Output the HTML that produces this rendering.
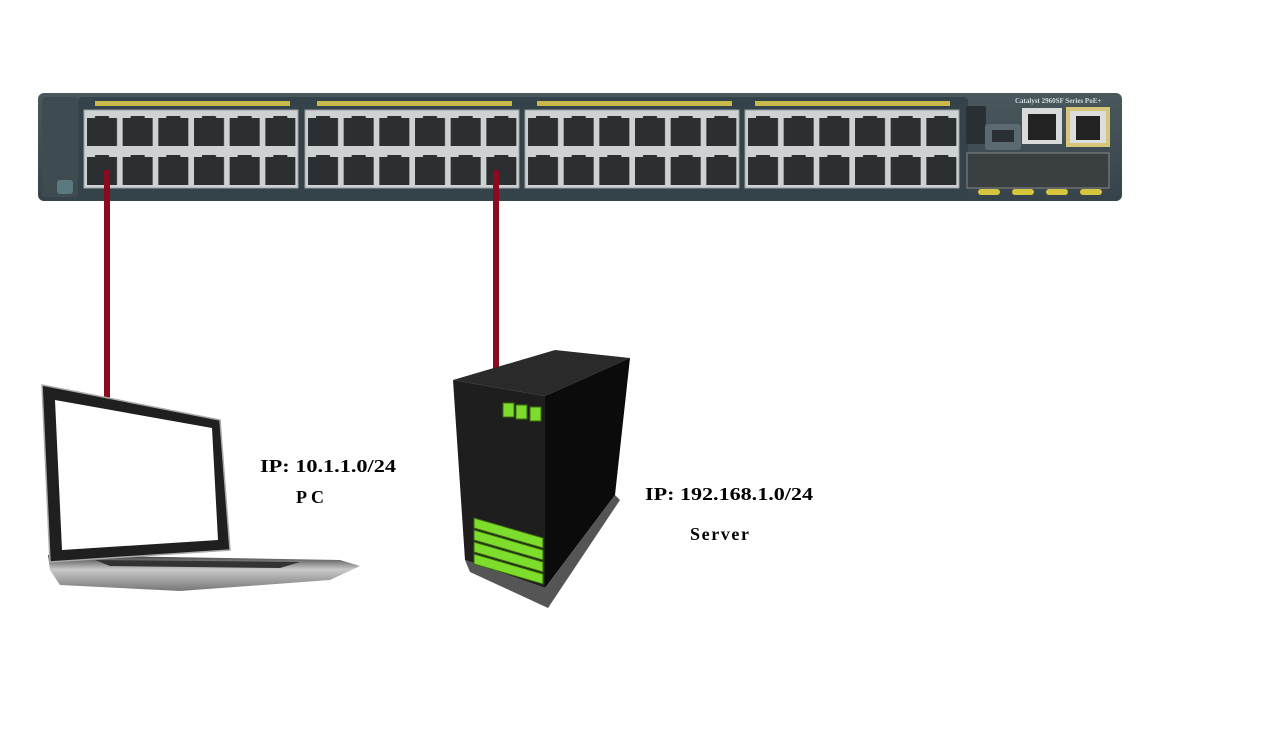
<!DOCTYPE html>
<html><head><meta charset="utf-8"><style>
html,body{margin:0;padding:0;background:#fff;}
svg{display:block;}
text{font-family:"Liberation Serif",serif;font-weight:bold;}
</style></head><body>
<svg width="1280" height="738" viewBox="0 0 1280 738" xmlns="http://www.w3.org/2000/svg">
<defs>
<g id="pc"><rect x="3" y="8" width="30" height="28" fill="#2b2f32"/><rect x="11" y="6" width="14" height="4" fill="#2b2f32"/></g>
<pattern id="p1" x="84" y="110" width="35.67" height="39" patternUnits="userSpaceOnUse"><use href="#pc"/></pattern>
<pattern id="p2" x="305" y="110" width="35.67" height="39" patternUnits="userSpaceOnUse"><use href="#pc"/></pattern>
<pattern id="p3" x="525" y="110" width="35.67" height="39" patternUnits="userSpaceOnUse"><use href="#pc"/></pattern>
<pattern id="p4" x="745" y="110" width="35.67" height="39" patternUnits="userSpaceOnUse"><use href="#pc"/></pattern>
<linearGradient id="sw" x1="0" y1="0" x2="0" y2="1"><stop offset="0" stop-color="#4a585e"/><stop offset="1" stop-color="#36434a"/></linearGradient>
<linearGradient id="base" x1="0" y1="0" x2="0" y2="1"><stop offset="0" stop-color="#3a3a3a"/><stop offset="0.4" stop-color="#c9c9c9"/><stop offset="1" stop-color="#777"/></linearGradient>
</defs>
<rect x="38" y="93" width="1084" height="108" rx="6" fill="url(#sw)"/>
<rect x="42" y="97" width="36" height="100" rx="4" fill="#3e4c52"/>
<rect x="57" y="180" width="16" height="14" rx="3" fill="#5b7a80"/>
<rect x="78" y="97" width="890" height="100" rx="4" fill="#34424a"/>
<g fill="#c9b84a">
<rect x="95" y="101" width="195" height="5"/><rect x="317" y="101" width="195" height="5"/>
<rect x="537" y="101" width="195" height="5"/><rect x="755" y="101" width="195" height="5"/>
</g>
<g stroke="#9aa0a3">
<rect x="84" y="110" width="214" height="78" fill="#cfd2d3"/><rect x="305" y="110" width="214" height="78" fill="#cfd2d3"/>
<rect x="525" y="110" width="214" height="78" fill="#cfd2d3"/><rect x="745" y="110" width="214" height="78" fill="#cfd2d3"/>
</g>
<rect x="84" y="110" width="214" height="78" fill="url(#p1)"/>
<rect x="305" y="110" width="214" height="78" fill="url(#p2)"/>
<rect x="525" y="110" width="214" height="78" fill="url(#p3)"/>
<rect x="745" y="110" width="214" height="78" fill="url(#p4)"/>
<rect x="966" y="106" width="20" height="38" rx="2" fill="#2a2f33"/>
<rect x="985" y="124" width="36" height="26" rx="3" fill="#5a6a70"/>
<rect x="992" y="130" width="22" height="12" fill="#2a2f33"/>
<rect x="1022" y="108" width="40" height="36" fill="#d8dadb"/>
<rect x="1028" y="114" width="28" height="26" fill="#222"/>
<rect x="1066" y="107" width="44" height="40" fill="#d6c67a"/>
<rect x="1070" y="111" width="36" height="32" fill="#ddd"/>
<rect x="1076" y="116" width="24" height="24" fill="#222"/>
<rect x="967" y="153" width="142" height="35" fill="#3a3f42" stroke="#888"/>
<g fill="#d6c63e"><rect x="978" y="189" width="22" height="6" rx="3"/><rect x="1012" y="189" width="22" height="6" rx="3"/><rect x="1046" y="189" width="22" height="6" rx="3"/><rect x="1080" y="189" width="22" height="6" rx="3"/></g>
<text x="1015" y="103" font-size="7" fill="#cfd8da" font-family="Liberation Sans,sans-serif">Catalyst 2960SF Series PoE+</text>
<!-- cables -->
<rect x="104" y="170" width="6" height="236" fill="#8b0a1e"/>
<rect x="493" y="170" width="6" height="206" fill="#8b0a1e"/>
<!-- laptop -->
<polygon points="48,555 340,560 360,566 330,580 180,591 60,585 50,570" fill="url(#base)"/>
<polygon points="95,560 300,562 280,568 110,566" fill="#333"/>
<polygon points="42,385 220,420 230,550 50,562" fill="#1f1f1f" stroke="#aaa" stroke-width="1.5"/>
<polygon points="55,400 212,428 218,540 62,550" fill="#fff"/>
<!-- server -->
<polygon points="453,380 555,350 630,358 545,396" fill="#2a2a2a"/>
<polygon points="453,380 545,396 545,588 465,560" fill="#1e1e1e"/>
<polygon points="545,396 630,358 615,495 545,588" fill="#0b0b0b"/>
<polygon points="465,560 545,588 615,495 620,500 548,608 470,572" fill="#555"/>
<g fill="#7ddc2c" stroke="#3a6a10">
<rect x="503" y="403" width="11" height="14"/><rect x="516" y="405" width="11" height="14"/><rect x="530" y="407" width="11" height="14"/>
<polygon points="474,518 543,538 543,548 474,528"/>
<polygon points="474,530 543,550 543,560 474,540"/>
<polygon points="474,542 543,562 543,572 474,552"/>
<polygon points="474,554 543,574 543,584 474,564"/>
</g>
<!-- labels -->
<text x="260" y="472" font-size="18" fill="#000" textLength="136" lengthAdjust="spacingAndGlyphs">IP: 10.1.1.0/24</text>
<text x="296" y="503" font-size="18" fill="#000" textLength="28">PC</text>
<text x="645" y="500" font-size="18" fill="#000" textLength="168" lengthAdjust="spacingAndGlyphs">IP: 192.168.1.0/24</text>
<text x="690" y="540" font-size="18" fill="#000" textLength="59">Server</text>
</svg>
</body></html>
